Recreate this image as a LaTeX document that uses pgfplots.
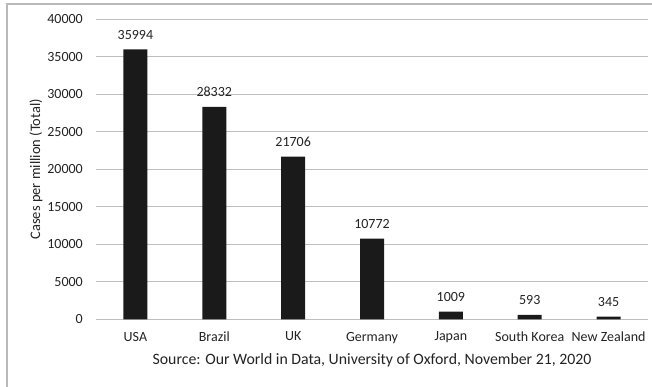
\documentclass[border=0pt]{standalone}
\usepackage{fontspec}
\setmainfont{Carlito}
\usepackage{pgfplots}
\pgfplotsset{compat=1.18}
\definecolor{barc}{RGB}{26,26,26}
\definecolor{gridc}{RGB}{190,190,190}
\definecolor{framec}{RGB}{185,185,185}
\definecolor{txt}{RGB}{35,35,35}
\begin{document}
\begin{tikzpicture}[x=1pt,y=1pt]
\useasboundingbox (0,0) rectangle (652,386);
\draw[framec, line width=1.2pt] (7,-10) -- (7,382) -- (660,382);
\begin{axis}[
  at={(96pt,66.7pt)}, anchor=south west,
  scale only axis, width=552pt, height=300pt,
  ymin=0, ymax=40000, ytick={0,5000,...,40000},
  scaled y ticks=false,
  yticklabel={\pgfmathprintnumber[fixed,precision=0,1000 sep={}]{\tick}},
  xmin=-0.5, xmax=6.5, xtick=data,
  xticklabels={USA,Brazil,UK,Germany,Japan,South Korea,New Zealand},
  ybar, bar width=24pt,
  axis line style={draw=none},
  ymajorgrids, grid style={gridc, line width=1.2pt},
  major tick length=0pt,
  /pgf/number format/.cd, 1000 sep={}, assume math mode=true,
  /pgfplots/.cd,
  tick label style={font=\fontsize{14}{14}\selectfont, text=txt, inner sep=0pt},
  yticklabel style={anchor=east, xshift=-13pt},
  xticklabel style={anchor=north, yshift=-12.5pt},
  ylabel={Cases per million (Total)},
  ylabel style={font=\fontsize{14.5}{14.5}\selectfont, text=txt, at={(axis description cs:-0.1087,0.5)}, anchor=center},
  xlabel={Source: Our World in Data, University of Oxford, November 21, 2020},
  xlabel style={font=\fontsize{15.8}{15.8}\selectfont, text=txt, at={(axis description cs:0.5,0)}, anchor=north, inner sep=0pt, yshift=-34.5pt},
  nodes near coords,
  nodes near coords style={font=\fontsize{14}{14}\selectfont, text=txt, anchor=south, inner sep=0pt, yshift=10pt},
  clip=false,
]
\addplot[fill=barc, draw=none] coordinates {(0,35994) (1,28332) (2,21706) (3,10772) (4,1009) (5,593) (6,345)};
\end{axis}
\end{tikzpicture}
\end{document}
